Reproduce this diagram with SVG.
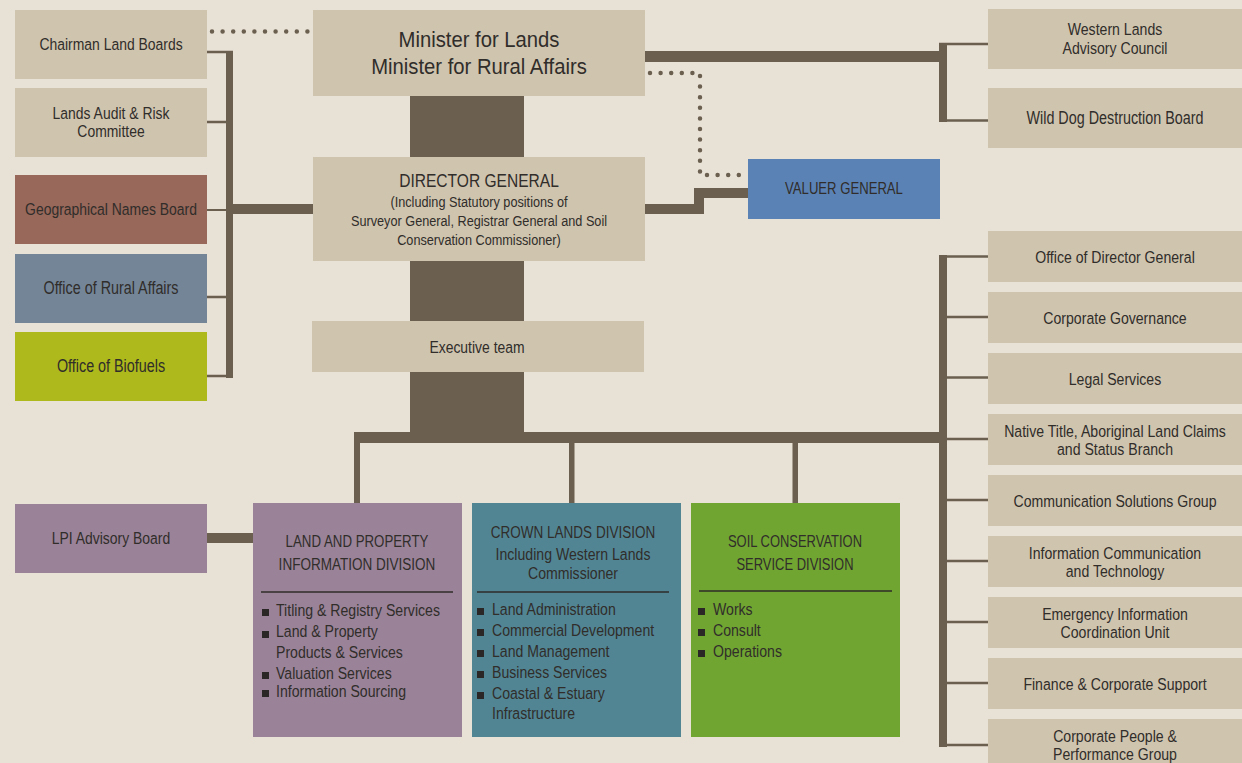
<svg xmlns="http://www.w3.org/2000/svg" width="1242" height="763" viewBox="0 0 1242 763">
<style>
text{font-family:"Liberation Sans Narrow","Liberation Sans",Arial,sans-serif;fill:#302d2a;text-anchor:middle;font-size:17.2px;transform-box:fill-box;transform-origin:center;transform:scaleX(0.82)}
.tan{fill:#cfc4ae}
.bar{fill:#6b6050}
.thin{stroke:#6b6050;stroke-width:2.5;fill:none}
.dots{stroke:#6b6050;stroke-width:4.5;stroke-linecap:round;stroke-dasharray:0 10.6;fill:none}
.sep{stroke:#2e2b28;stroke-width:1.5}
text.bl{text-anchor:start;transform-origin:left center}
text.big{font-size:22.5px;transform:scaleX(0.9)}
text.cap{font-size:16.2px}
.sq{fill:#2a2726}
</style>
<rect width="1242" height="763" fill="#e8e1d5"/>
<g id="connectors">
  <rect class="bar" x="410" y="96" width="114" height="340"/>
  <rect class="bar" x="226" y="51" width="7" height="327"/>
  <path class="thin" d="M207 52H233M207 122H226M207 297H226M207 376H233"/>
  <rect class="bar" x="207" y="209" width="19" height="2"/>
  <rect class="bar" x="233" y="204" width="80" height="10"/>
  <rect class="bar" x="645" y="51" width="298" height="11"/>
  <rect class="bar" x="939" y="43" width="8" height="79"/>
  <path class="thin" d="M939 44H988M947 120.5H988"/>
  <path d="M645 209H699V193H748" fill="none" stroke="#6b6050" stroke-width="10"/>
  <path class="dots" d="M212 31.5H310"/>
  <path class="dots" d="M650 73H700V175H748"/>
  <rect class="bar" x="354" y="432" width="593" height="11"/>
  <rect class="bar" x="354" y="443" width="6" height="60"/>
  <rect class="bar" x="569" y="443" width="5.5" height="60"/>
  <rect class="bar" x="792.5" y="443" width="5.5" height="60"/>
  <rect class="bar" x="939" y="255" width="8" height="492"/>
  <path class="thin" d="M947 256.5H988M947 317H988M947 377.5H988M947 439H988M947 500H988M947 561H988M947 622H988M947 683H988M939 745H988"/>
  <rect class="bar" x="207" y="533" width="46" height="10"/>
</g>
<g id="chairman"><rect class="tan" x="15" y="10" width="192" height="69"/><text x="111" y="50" style="font-size:17px">Chairman Land Boards</text></g>
<g id="audit"><rect class="tan" x="15" y="88" width="192" height="69"/><text x="111" y="119" style="font-size:17px">Lands Audit &amp; Risk</text><text x="111" y="137" style="font-size:17px">Committee</text></g>
<g id="geo"><rect fill="#98685a" x="15" y="175" width="192" height="69"/><text x="111" y="215" style="font-size:17px">Geographical Names Board</text></g>
<g id="rural"><rect fill="#748598" x="15" y="254" width="192" height="69"/><text x="111" y="294" style="font-size:17.5px">Office of Rural Affairs</text></g>
<g id="biofuels"><rect fill="#aeb91c" x="15" y="332" width="192" height="69"/><text x="111" y="372" style="font-size:17.5px">Office of Biofuels</text></g>
<g id="minister"><rect class="tan" x="313" y="10" width="332" height="86"/><text class="big" x="479" y="47">Minister for Lands</text><text class="big" x="479" y="74">Minister for Rural Affairs</text></g>
<g id="dg"><rect class="tan" x="313" y="157" width="332" height="104"/><text x="479" y="187" style="font-size:19px">DIRECTOR GENERAL</text><text x="479" y="207" style="font-size:15.5px">(Including Statutory positions of</text><text x="479" y="226" style="font-size:15.5px">Surveyor General, Registrar General and Soil</text><text x="479" y="245" style="font-size:15.5px">Conservation Commissioner)</text></g>
<g id="exec"><rect class="tan" x="312" y="321" width="332" height="51"/><text x="477" y="353" style="font-size:17px">Executive team</text></g>
<g id="valuer"><rect fill="#5b82b5" x="748" y="159" width="192" height="60"/><text x="844" y="194" style="font-size:16px">VALUER GENERAL</text></g>
<g id="western"><rect class="tan" x="988" y="9" width="254" height="60"/><text x="1115" y="35">Western Lands</text><text x="1115" y="54">Advisory Council</text></g>
<g id="wilddog"><rect class="tan" x="988" y="88" width="254" height="60"/><text x="1115" y="124" style="font-size:17.5px">Wild Dog Destruction Board</text></g>
<g id="odg"><rect class="tan" x="988" y="231" width="254" height="51"/><text x="1115" y="263">Office of Director General</text></g>
<g id="corpgov"><rect class="tan" x="988" y="292" width="254" height="51"/><text x="1115" y="324">Corporate Governance</text></g>
<g id="legal"><rect class="tan" x="988" y="353" width="254" height="51"/><text x="1115" y="385">Legal Services</text></g>
<g id="native"><rect class="tan" x="988" y="414" width="254" height="51"/><text x="1115" y="437">Native Title, Aboriginal Land Claims</text><text x="1115" y="455">and Status Branch</text></g>
<g id="comms"><rect class="tan" x="988" y="475" width="254" height="51"/><text x="1115" y="507">Communication Solutions Group</text></g>
<g id="ict"><rect class="tan" x="988" y="536" width="254" height="51"/><text x="1115" y="559">Information Communication</text><text x="1115" y="577">and Technology</text></g>
<g id="emergency"><rect class="tan" x="988" y="597" width="254" height="51"/><text x="1115" y="620">Emergency Information</text><text x="1115" y="638">Coordination Unit</text></g>
<g id="finance"><rect class="tan" x="988" y="658" width="254" height="51"/><text x="1115" y="690">Finance &amp; Corporate Support</text></g>
<g id="people"><rect class="tan" x="988" y="719" width="254" height="51"/><text x="1115" y="742">Corporate People &amp;</text><text x="1115" y="760">Performance Group</text></g>
<g id="lpiboard"><rect fill="#9a8398" x="15" y="504" width="192" height="69"/><text x="111" y="544" style="font-size:17px">LPI Advisory Board</text></g>
<g id="lpid"><rect fill="#9a8398" x="253" y="503" width="209" height="234"/>
  <text class="cap" x="357" y="547">LAND AND PROPERTY</text><text class="cap" x="357" y="570" style="font-size:16.5px">INFORMATION DIVISION</text>
  <line class="sep" x1="261" y1="592" x2="453" y2="592"/>
  <rect class="sq" x="262" y="609" width="7" height="7"/><text class="bl" x="276" y="616">Titling &amp; Registry Services</text>
  <rect class="sq" x="262" y="631" width="7" height="7"/><text class="bl" x="276" y="637">Land &amp; Property</text>
  <text class="bl" x="276" y="658">Products &amp; Services</text>
  <rect class="sq" x="262" y="672" width="7" height="7"/><text class="bl" x="276" y="679">Valuation Services</text>
  <rect class="sq" x="262" y="690" width="7" height="7"/><text class="bl" x="276" y="697">Information Sourcing</text>
</g>
<g id="crown"><rect fill="#528594" x="472" y="503" width="209" height="234"/>
  <text class="cap" x="573" y="538" style="font-size:16.5px">CROWN LANDS DIVISION</text><text x="573" y="560">Including Western Lands</text><text x="573" y="579">Commissioner</text>
  <line class="sep" x1="477" y1="592" x2="669" y2="592"/>
  <rect class="sq" x="477" y="608" width="7" height="7"/><text class="bl" x="492" y="615">Land Administration</text>
  <rect class="sq" x="477" y="629" width="7" height="7"/><text class="bl" x="492" y="636">Commercial Development</text>
  <rect class="sq" x="477" y="650" width="7" height="7"/><text class="bl" x="492" y="657">Land Management</text>
  <rect class="sq" x="477" y="671" width="7" height="7"/><text class="bl" x="492" y="678">Business Services</text>
  <rect class="sq" x="477" y="692" width="7" height="7"/><text class="bl" x="492" y="699">Coastal &amp; Estuary</text>
  <text class="bl" x="492" y="719">Infrastructure</text>
</g>
<g id="soil"><rect fill="#70a532" x="691" y="503" width="209" height="234"/>
  <text class="cap" x="795" y="547" style="font-size:15.8px">SOIL CONSERVATION</text><text class="cap" x="795" y="570" style="font-size:15.8px">SERVICE DIVISION</text>
  <line class="sep" x1="699" y1="591" x2="892" y2="591"/>
  <rect class="sq" x="698" y="608" width="7" height="7"/><text class="bl" x="713" y="615">Works</text>
  <rect class="sq" x="698" y="629" width="7" height="7"/><text class="bl" x="713" y="636">Consult</text>
  <rect class="sq" x="698" y="650" width="7" height="7"/><text class="bl" x="713" y="657">Operations</text>
</g>
</svg>
